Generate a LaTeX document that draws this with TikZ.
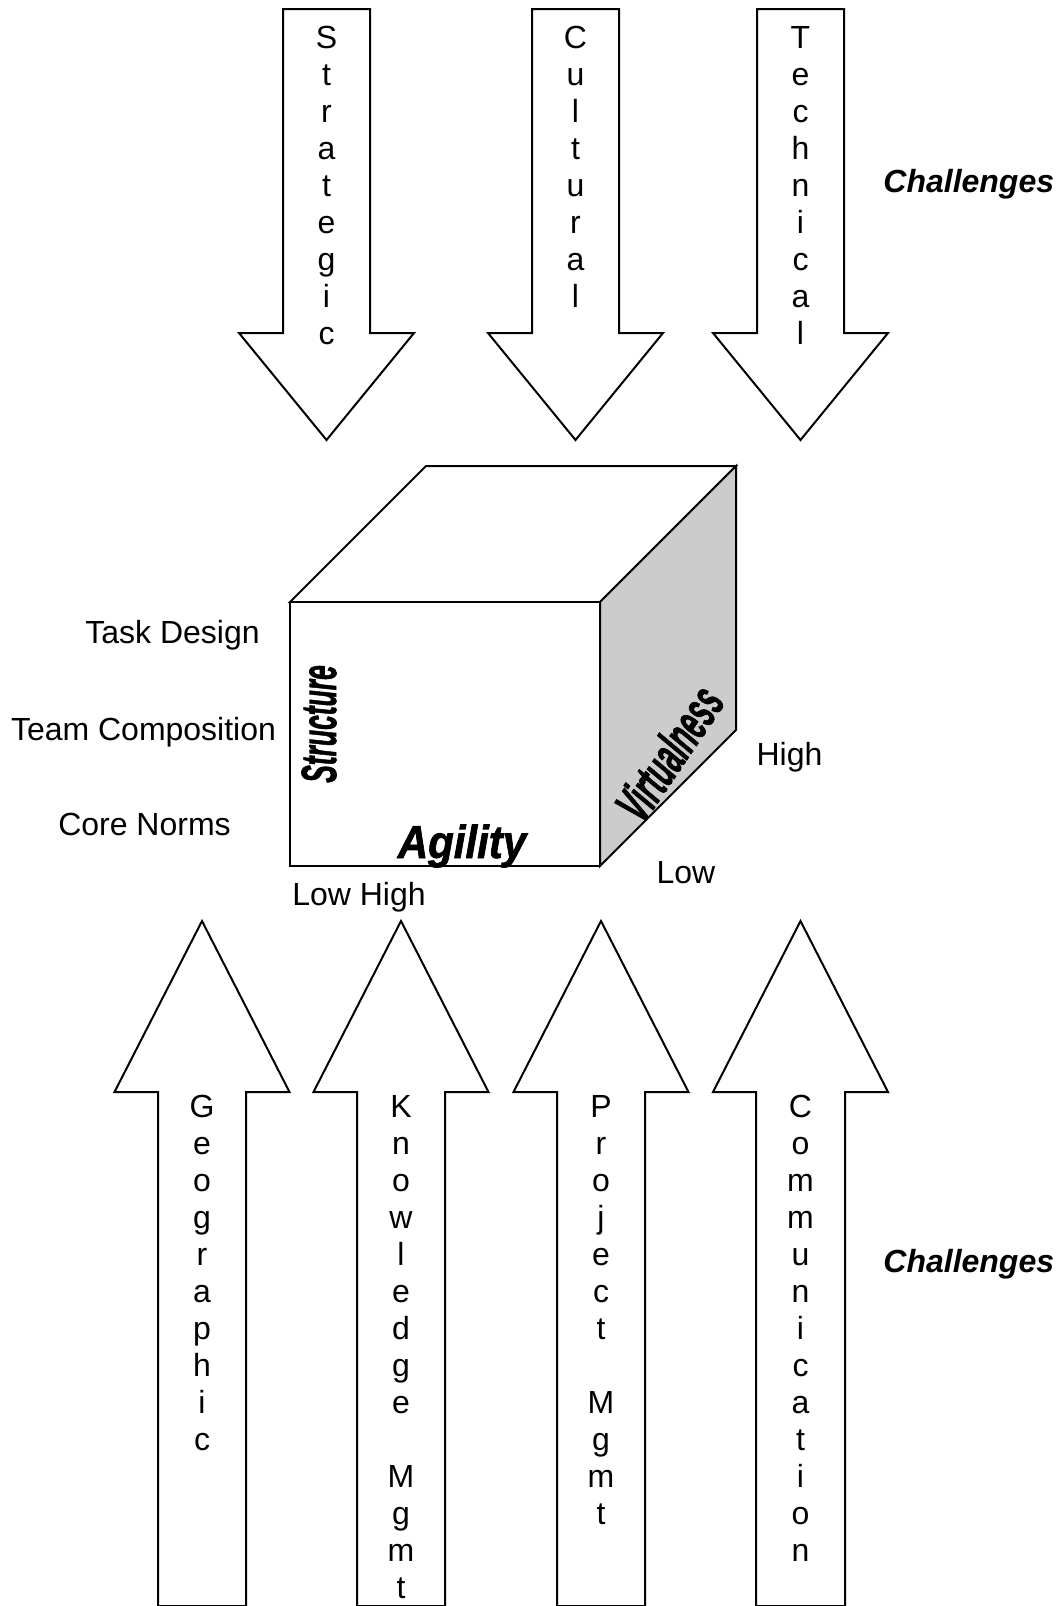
\documentclass[tikz,border=0pt]{standalone}
\usepackage{fontspec}
\setmainfont{Liberation Sans}
\newfontfamily\heavyfont{Liberation Sans}[BoldItalicFeatures={FakeBold=1.6}]

\begin{document}
\begin{tikzpicture}[
    x=0.5pt, y=-0.5pt,
    font=\fontsize{16}{18.5}\selectfont,
    %% ── Shape styles ────────────────────────────────────────────────────
    bigarrow/.style={draw, line width=1pt, fill=white, line join=miter},
    face/.style={draw, line width=1pt, fill=white},
    sideface/.style={draw, line width=1pt, fill=black!20},
    %% ── Text styles ─────────────────────────────────────────────────────
    lettercol/.style={align=center, inner sep=0pt, anchor=north},
    lbl/.style={inner sep=0pt, anchor=base},
    wordart/.style={inner sep=0pt, font=\heavyfont\fontsize{21}{24}\selectfont\bfseries\itshape},
    tag/.style={inner sep=0pt, anchor=base west, font=\fontsize{16}{18.5}\selectfont\bfseries\itshape},
]

\path[use as bounding box, fill=white] (0,0) rectangle (1060,1606);

%%─────────────────────────────────────────────────────────────────────────
%% Downward arrows
%%─────────────────────────────────────────────────────────────────────────
\draw[bigarrow] (283,9) -- (370,9) -- (370,333) -- (414,333)
    -- (326.5,440) -- (239,333) -- (283,333) -- cycle;
\draw[bigarrow] (532,9) -- (619,9) -- (619,333) -- (663,333)
    -- (575.5,440) -- (488,333) -- (532,333) -- cycle;
\draw[bigarrow] (757,9) -- (844,9) -- (844,333) -- (888,333)
    -- (800.5,440) -- (713,333) -- (757,333) -- cycle;

\node[lettercol] (strategic) at (326.5,26) {S\\t\\r\\a\\t\\e\\g\\i\\c};
\node[lettercol] (cultural)  at (575.5,26) {C\\u\\l\\t\\u\\r\\a\\l};
\node[lettercol] (technical) at (800.5,26) {T\\e\\c\\h\\n\\i\\c\\a\\l};

\node[tag] (challtop) at (883,192) {Challenges};

%%─────────────────────────────────────────────────────────────────────────
%% Cube
%%─────────────────────────────────────────────────────────────────────────
\coordinate (ftl) at (290,602);
\coordinate (ftr) at (600,602);
\coordinate (fbr) at (600,866);
\coordinate (fbl) at (290,866);
\coordinate (btl) at (426,466);
\coordinate (btr) at (736,466);
\coordinate (bbr) at (736,730);

\draw[face] (ftl) -- (btl) -- (btr) -- (ftr) -- cycle;
\draw[sideface] (ftr) -- (btr) -- (bbr) -- (fbr) -- cycle;
\draw[face] (fbl) rectangle (ftr);

\node[wordart, rotate=90] (structure) at (319,724) {\scalebox{0.63}[1.18]{Structure}};
\node[wordart, rotate=56] (virtualness) at (669,753) {\scalebox{0.66}[1.25]{Virtualness}};
\node[wordart, anchor=base] (agility) at (462,858) {\scalebox{1}[1.1]{Agility}};

%% axis labels
\node[lbl] (taskdesign) at (172.5,643) {Task Design};
\node[lbl] (teamcomp)   at (143.5,740) {Team Composition};
\node[lbl] (corenorms)  at (144.5,835) {Core Norms};
\node[lbl] (highv)      at (789.5,765) {High};
\node[lbl] (lowv)       at (686,883)   {Low};
\node[lbl] (lowhigh)    at (359,905)   {Low High};

%%─────────────────────────────────────────────────────────────────────────
%% Upward arrows
%%─────────────────────────────────────────────────────────────────────────
\draw[bigarrow] (158,1606) -- (158,1092) -- (114.5,1092) -- (202,921)
    -- (289.5,1092) -- (246,1092) -- (246,1606) -- cycle;
\draw[bigarrow] (357,1606) -- (357,1092) -- (313.5,1092) -- (401,921)
    -- (488.5,1092) -- (445,1092) -- (445,1606) -- cycle;
\draw[bigarrow] (557,1606) -- (557,1092) -- (513.5,1092) -- (601,921)
    -- (688.5,1092) -- (645,1092) -- (645,1606) -- cycle;
\draw[bigarrow] (756,1606) -- (756,1092) -- (713,1092) -- (800.5,921)
    -- (888,1092) -- (845,1092) -- (845,1606) -- cycle;

\node[lettercol] (geographic)    at (202,1095)   {G\\e\\o\\g\\r\\a\\p\\h\\i\\c};
\node[lettercol] (knowledge)     at (401,1095)   {K\\n\\o\\w\\l\\e\\d\\g\\e\\ \\M\\g\\m\\t};
\node[lettercol] (project)       at (601,1095)   {P\\r\\o\\j\\e\\c\\t\\ \\M\\g\\m\\t};
\node[lettercol] (communication) at (800.5,1095) {C\\o\\m\\m\\u\\n\\i\\c\\a\\t\\i\\o\\n};

\node[tag] (challbot) at (883,1272) {Challenges};

\end{tikzpicture}
\end{document}
